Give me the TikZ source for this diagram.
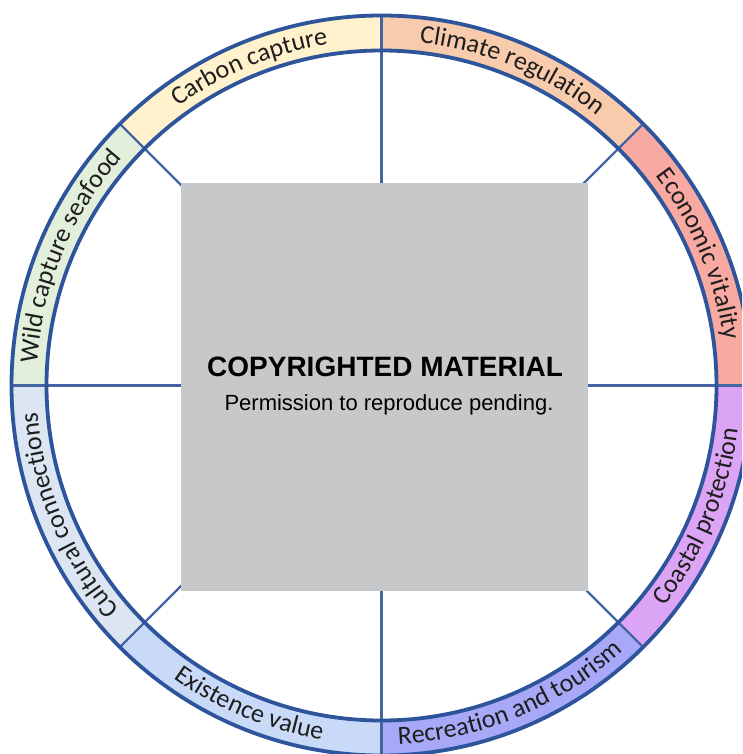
\documentclass[tikz,border=0pt]{standalone}
\usepackage{fontspec}
\setmainfont{Liberation Sans}
\newfontfamily\ringfont{Carlito}
\usetikzlibrary{calc,decorations.text}

% ring and line colours
\definecolor{ringblue}{HTML}{2E549C}
\definecolor{spokeblue}{HTML}{4464A2}
\definecolor{boxgray}{HTML}{C7C8CA}
\definecolor{labeltext}{HTML}{1E1E1E}
% segment fills
\definecolor{econ}{HTML}{F7A9A2}
\definecolor{climate}{HTML}{F8CBAD}
\definecolor{carbon}{HTML}{FFF2CC}
\definecolor{wild}{HTML}{E2EFDA}
\definecolor{cultural}{HTML}{DCE6F2}
\definecolor{existence}{HTML}{C9DAF8}
\definecolor{recreation}{HTML}{A8A8F8}
\definecolor{coastal}{HTML}{DCA4F4}

\newcommand\ringtext{\ringfont\fontsize{26}{30}\selectfont}

\tikzset{
  spoke/.style={draw=spokeblue, line width=2.2pt},
  ringline/.style={draw=ringblue, line width=3.8pt},
  ringlabel/.style={decorate, decoration={text along path, text align=center,
      text color=labeltext, text={|\ringtext|#1}}},
  panel/.style={fill=boxgray, inner sep=0pt, minimum width=407pt, minimum height=408pt, anchor=north west},
}

\begin{document}
\begin{tikzpicture}[x=1pt,y=1pt]
\useasboundingbox (0,0) rectangle (742,-754);
\clip (0,0) rectangle (742,-754);
\fill[white] (0,0) rectangle (742,-754);

\coordinate (C) at (381.5,-385.5);
\def\rin{335pt}
\def\rout{370pt}

% coloured sectors of the outer ring
\foreach \a/\col in {0/econ,45/climate,90/carbon,135/wild,180/cultural,225/existence,270/recreation,315/coastal}{
  \pgfmathsetmacro{\b}{\a+45}
  \fill[\col] ($(C)+(\a:\rout)$) arc[start angle=\a, end angle=\b, radius=\rout]
    -- ($(C)+(\b:\rin)$) arc[start angle=\b, end angle=\a, radius=\rin] -- cycle;
}

% spokes between the sectors
\foreach \a in {0,45,...,315}{
  \draw[spoke] (C) -- ($(C)+(\a:\rout)$);
}

% ring borders
\draw[ringline] (C) circle[radius=\rout];
\draw[ringline] (C) circle[radius=\rin];

% labels reading clockwise
\path[ringlabel={Economic vitality}] ($(C)+(45:345pt)$) arc[start angle=45, end angle=0, radius=345pt];
\path[ringlabel={Climate regulation}] ($(C)+(90:345pt)$) arc[start angle=90, end angle=45, radius=345pt];
\path[ringlabel={Carbon capture}] ($(C)+(135:345pt)$) arc[start angle=135, end angle=90, radius=345pt];
\path[ringlabel={Wild capture seafood}] ($(C)+(180:345pt)$) arc[start angle=180, end angle=135, radius=345pt];
\path[ringlabel={Cultural connections}] ($(C)+(225:345pt)$) arc[start angle=225, end angle=180, radius=345pt];
% labels reading counter-clockwise
\path[ringlabel={Existence value}] ($(C)+(225:359pt)$) arc[start angle=225, end angle=270, radius=359pt];
\path[ringlabel={Recreation and tourism}] ($(C)+(270:359pt)$) arc[start angle=270, end angle=315, radius=359pt];
\path[ringlabel={Coastal protection}] ($(C)+(315:359pt)$) arc[start angle=315, end angle=360, radius=359pt];

% central panel
\node[panel] (box) at (181,-183) {};
\node[font=\bfseries\fontsize{28}{32}\selectfont, anchor=base] (title) at (385,-376.7) {COPYRIGHTED MATERIAL};
\node[font=\fontsize{22}{26}\selectfont, anchor=base] (note) at (389,-410) {Permission to reproduce pending.};
\end{tikzpicture}
\end{document}
